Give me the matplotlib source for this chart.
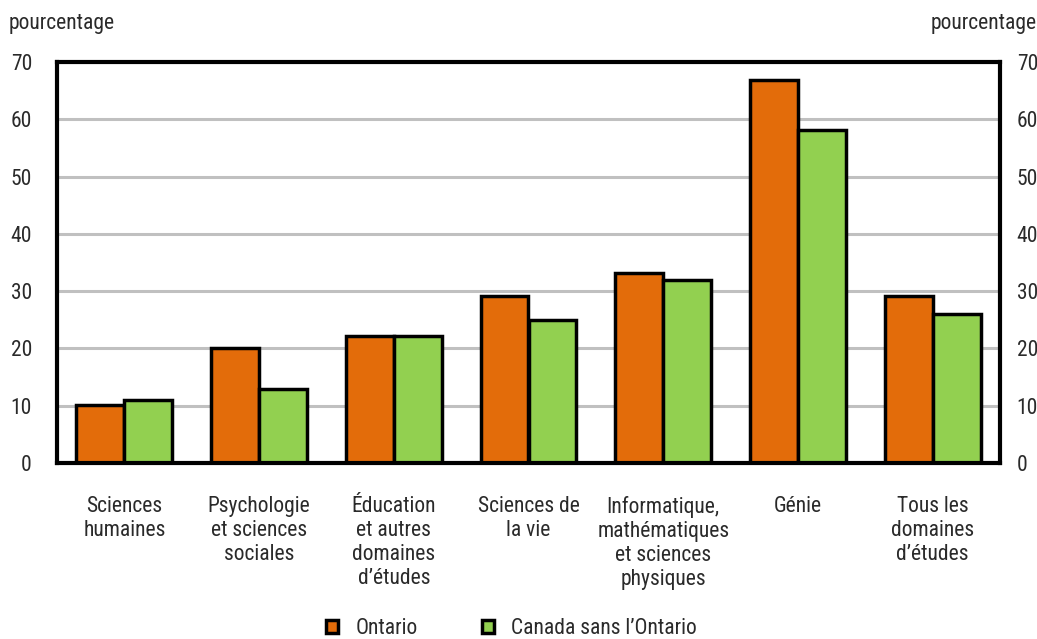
import matplotlib
matplotlib.use("Agg")
import matplotlib.pyplot as plt
import numpy as np
from matplotlib.patches import Patch

plt.rcParams['font.family'] = ['Roboto Condensed', 'DejaVu Sans']

categories = ["Sciences\nhumaines", "Psychologie\net sciences\nsociales",
              "Éducation\net autres\ndomaines\nd’études", "Sciences de\nla vie",
              "Informatique,\nmathématiques\net sciences\nphysiques", "Génie",
              "Tous les\ndomaines\nd’études"]
ontario = [10.2, 20.0, 22.2, 29.2, 33.1, 66.8, 29.1]
canada_sans_ontario = [11.0, 13.0, 22.2, 25.0, 31.9, 58.1, 26.0]
series_names = ["Ontario", "Canada sans l’Ontario"]
yticks = [0, 10, 20, 30, 40, 50, 60, 70]

c_on = "#E36C0A"
c_ca = "#92D050"
tc = "#2a2a2a"
fs = 15.5

fig = plt.figure(figsize=(10.37, 6.39), dpi=100)
ax = fig.add_axes([57/1037, 1-463/639, (1000-57)/1037, (463-62)/639])

x = np.arange(len(categories))
w = 0.356
ax.bar(x - w/2, ontario, w, color=c_on, edgecolor="black", linewidth=2.5, zorder=3)
ax.bar(x + w/2, canada_sans_ontario, w, color=c_ca, edgecolor="black", linewidth=2.5, zorder=3)

ax.set_xlim(-0.5, len(categories) - 0.5)
ax.set_ylim(0, 70)
ax.set_yticks(yticks)
ax.set_yticklabels([str(v) for v in yticks], fontsize=fs, color=tc)
ax.tick_params(axis='y', length=0, pad=18)
ax.set_xticks(x)
ax.set_xticklabels(categories, fontsize=fs, color=tc, linespacing=1.19, va="top")
ax.tick_params(axis='x', length=0, pad=23.5)
ax.yaxis.grid(True, color="#c0c0c0", linewidth=2.2, zorder=0)
ax.set_axisbelow(True)
for s in ax.spines.values():
    s.set_linewidth(3)
    s.set_color("black")
    s.set_zorder(4)

ax2 = ax.twinx()
ax2.set_ylim(0, 70)
ax2.set_yticks(yticks)
ax2.set_yticklabels([str(v) for v in yticks], fontsize=fs, color=tc)
ax2.tick_params(axis='y', length=0, pad=12)
for s in ax2.spines.values():
    s.set_visible(False)

fig.text(9/1037, 1-23/639, "pourcentage", fontsize=fs, color=tc, ha="left", va="center")
fig.text(1037/1037, 1-23/639, "pourcentage", fontsize=fs, color=tc, ha="right", va="center")

handles = [Patch(facecolor=c_on, edgecolor="black", linewidth=2.5),
           Patch(facecolor=c_ca, edgecolor="black", linewidth=2.5)]
fig.legend(handles, series_names, loc="center left", bbox_to_anchor=(326/1037, 1-629/639),
           ncol=2, frameon=False, fontsize=fs, handlelength=0.56, handleheight=0.56,
           handletextpad=0.8, columnspacing=3.0, borderpad=0, borderaxespad=0,
           labelcolor=tc)

fig.savefig("out.png", dpi=100)
